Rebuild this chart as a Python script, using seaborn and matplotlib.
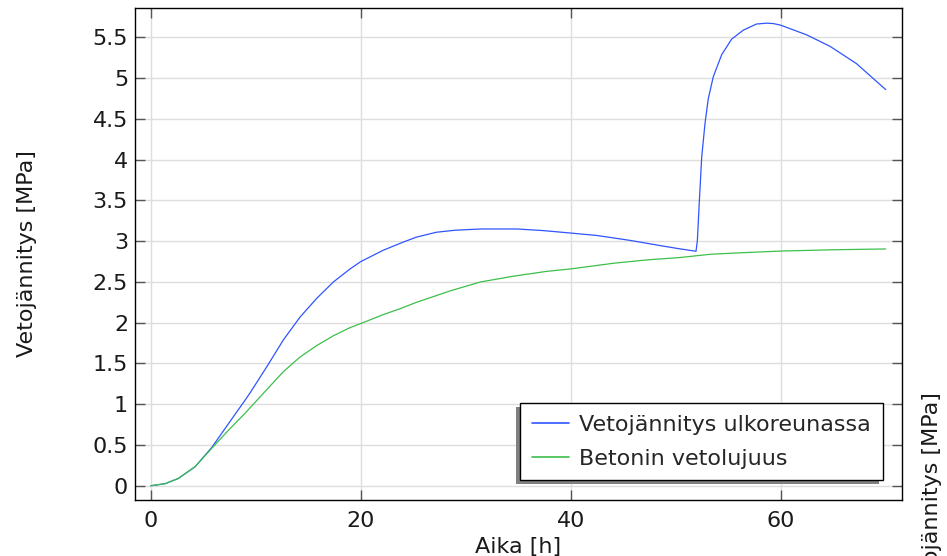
import matplotlib
matplotlib.use("Agg")
import matplotlib.pyplot as plt
import numpy as np
import pandas as pd
import seaborn as sns

# values
t_stress = [0, 1.36, 2.63, 4.22, 5.81, 7.39, 8.98, 9.46, 11.05, 12.63, 14.22, 15.81,
            17.39, 18.98, 20.0, 22.15, 24.06, 25.3, 27.2, 29.0, 31.4, 34.9, 37.4, 40.0,
            42.5, 45.65, 48.8, 50.4, 51.93, 52.06, 52.25, 52.47, 52.79, 53.1, 53.58,
            54.38, 55.33, 56.44, 57.7, 58.7, 59.3, 60.0, 62.5, 64.7, 67.2, 70.0]
v_stress = [0, 0.025, 0.09, 0.233, 0.47, 0.76, 1.05, 1.14, 1.46, 1.79, 2.07, 2.30,
            2.50, 2.66, 2.75, 2.89, 2.99, 3.05, 3.11, 3.135, 3.15, 3.15, 3.13, 3.10,
            3.07, 3.01, 2.94, 2.906, 2.877, 3.01, 3.5, 4.03, 4.45, 4.75, 5.02,
            5.29, 5.48, 5.59, 5.665, 5.675, 5.67, 5.65, 5.53, 5.39, 5.18, 4.86]

t_strength = [0, 1.36, 2.63, 4.22, 5.81, 7.39, 8.98, 11.05, 12.63, 14.22, 15.81, 17.39,
              18.98, 20.0, 22.15, 23.7, 25.3, 28.5, 31.4, 34.5, 37.7, 40.0, 44.1, 47.2,
              50.4, 53.3, 56.5, 60.2, 65.0, 70.0]
v_strength = [0, 0.025, 0.09, 0.235, 0.46, 0.68, 0.89, 1.18, 1.40, 1.58, 1.72, 1.84,
              1.94, 1.99, 2.10, 2.17, 2.25, 2.39, 2.50, 2.57, 2.63, 2.66, 2.73, 2.77,
              2.80, 2.84, 2.86, 2.88, 2.895, 2.905]

label_stress = "Vetojännitys ulkoreunassa"
label_strength = "Betonin vetolujuus"
blue = "#2f55ff"
green = "#3cbf4c"

df = pd.concat([
    pd.DataFrame({"t": t_stress, "v": v_stress, "sarja": label_stress}),
    pd.DataFrame({"t": t_strength, "v": v_strength, "sarja": label_strength}),
])

sns.set_theme(style="whitegrid")
plt.rcParams["font.family"] = ["DejaVu Sans"]
plt.rcParams["font.size"] = 16

fig = plt.figure(figsize=(9.47, 5.56), dpi=100)
ax = fig.add_axes([0.1426, 0.1007, 0.8099, 0.8849])

sns.lineplot(data=df, x="t", y="v", hue="sarja", estimator=None, sort=False,
             palette={label_stress: blue, label_strength: green},
             linewidth=0.9, ax=ax, legend=False)

ax.set_xlim(-1.5, 71.55)
ax.set_ylim(-0.175, 5.861)
ax.set_xticks([0, 20, 40, 60])
ax.set_yticks(np.arange(0, 5.51, 0.5))
ax.set_yticklabels(["0", "0.5", "1", "1.5", "2", "2.5", "3", "3.5", "4", "4.5", "5", "5.5"])

ax.set_facecolor("white")
ax.grid(True, color="#dedede", linewidth=1.0)
for sp in ax.spines.values():
    sp.set_color("black")
    sp.set_linewidth(1.0)
ax.tick_params(axis="both", which="both", direction="in", length=7, width=1,
               color="#555555", labelsize=16, labelcolor="#1a1a1a",
               top=True, right=True, bottom=True, left=True)
ax.tick_params(axis="y", pad=5)
ax.tick_params(axis="x", pad=8)

ax.set_xlabel("Aika [h]", fontsize=16, color="#1a1a1a")
ax.set_ylabel("Vetojännitys [MPa]", fontsize=16, color="#1a1a1a")
ax.xaxis.set_label_coords(0.5, -0.075)
ax.yaxis.set_label_coords(-0.128, 0.5)

# second (cut-off) y label at the right edge
fig.text(922 / 947, 1 - 392 / 556, "Vetojännitys [MPa]", rotation=90,
         ha="left", va="top", fontsize=16, color="#1a1a1a")

handles = [plt.Line2D([], [], color=blue, linewidth=1.2),
           plt.Line2D([], [], color=green, linewidth=1.2)]
leg = ax.legend(handles, [label_stress, label_strength], loc="lower right",
                bbox_to_anchor=(0.975, 0.04), borderaxespad=0, fontsize=16,
                fancybox=False, framealpha=1, edgecolor="black",
                handlelength=1.67, handletextpad=0.45, borderpad=0.53,
                labelspacing=0.62,
                shadow={"ox": -3, "oy": -3, "facecolor": "#808080",
                        "edgecolor": "none", "alpha": 1.0})
leg.get_frame().set_linewidth(1.0)

fig.savefig("out.png", dpi=100)
